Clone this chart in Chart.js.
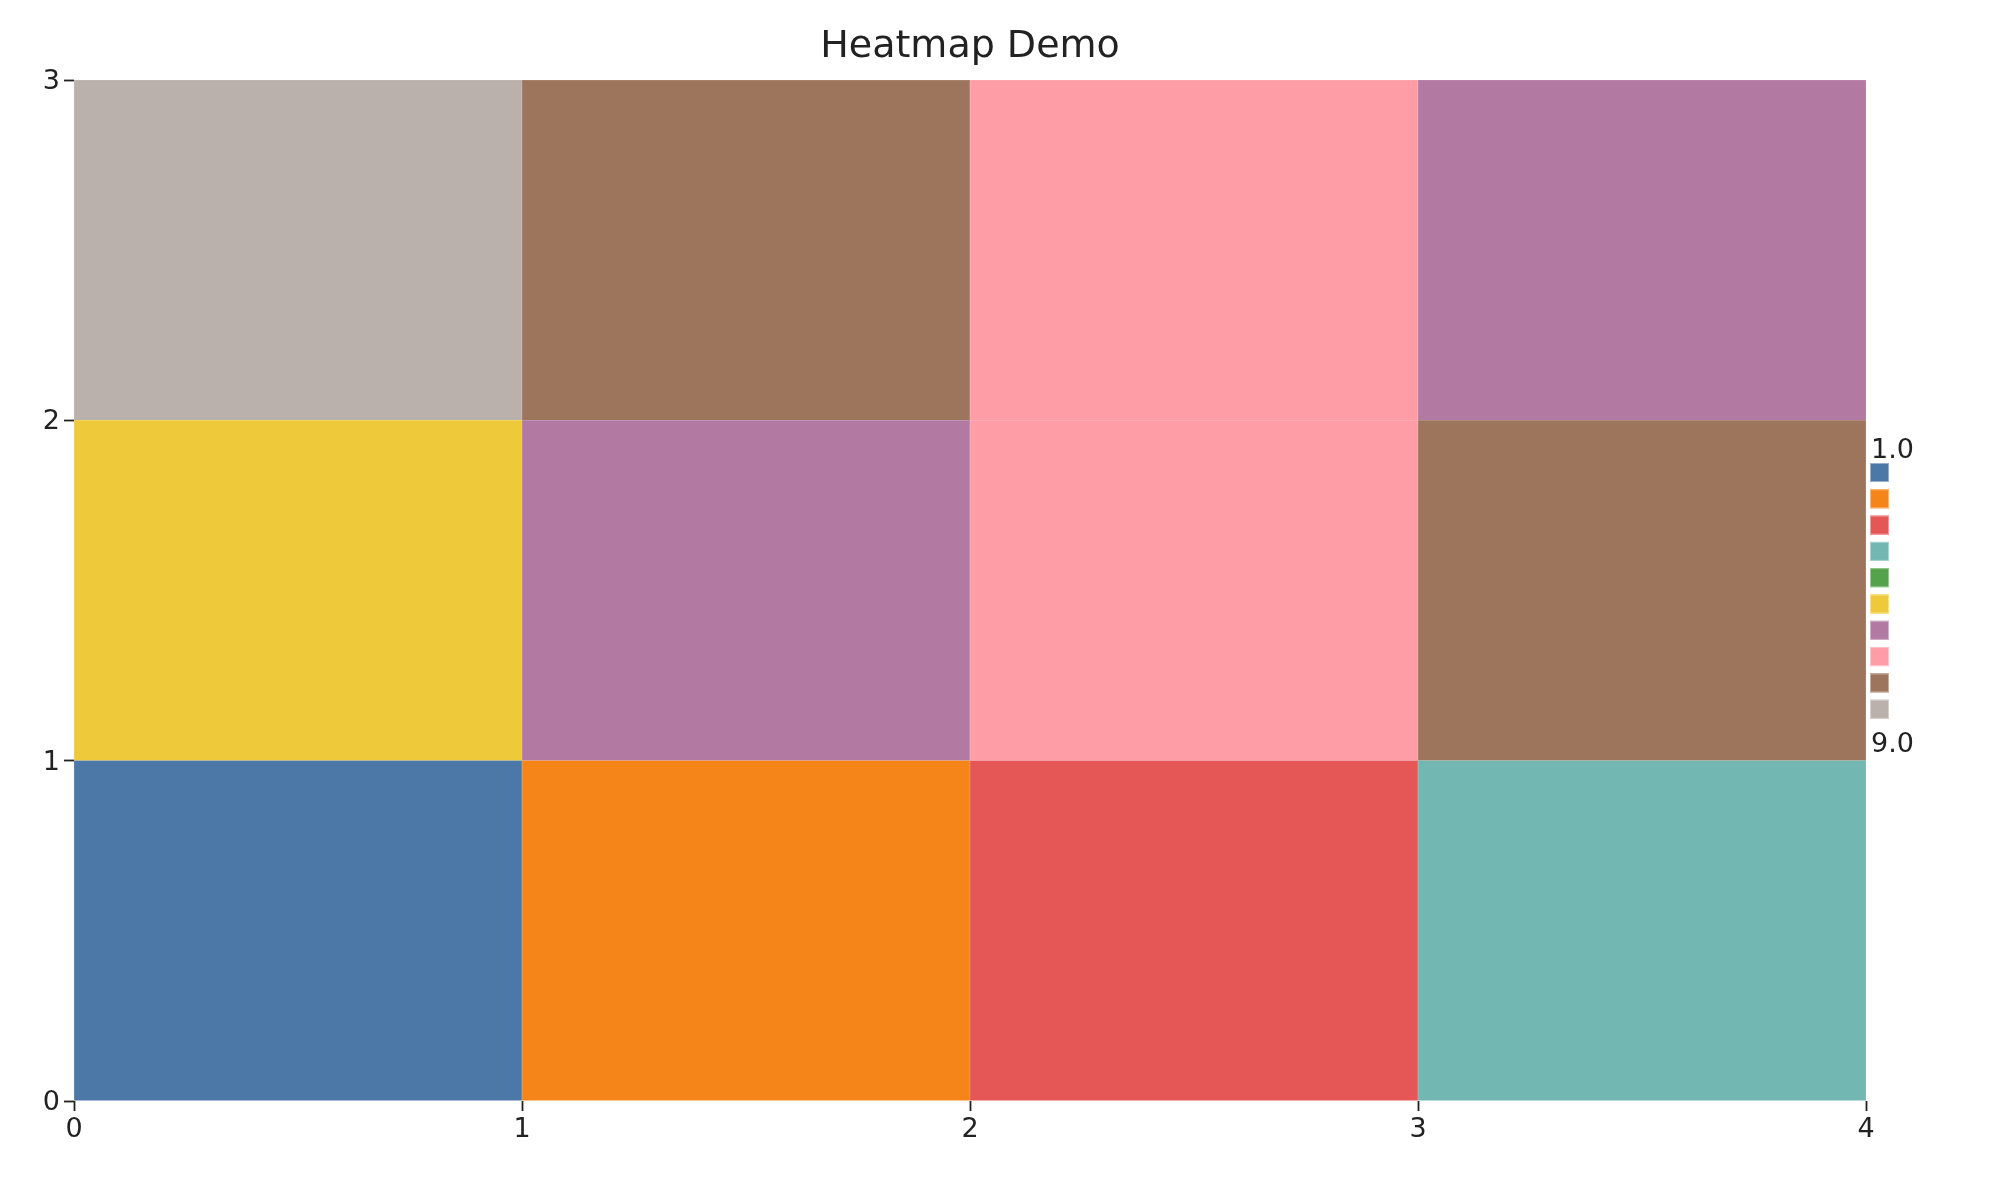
<!DOCTYPE html>
<html>
<head>
<meta charset="utf-8">
<script src="https://cdn.jsdelivr.net/npm/chart.js@4"></script>
<style>
  html, body { margin: 0; padding: 0; background: #fff; }
  #wrap { width: 2000px; height: 1200px; position: relative; }
</style>
</head>
<body>
<div id="wrap"><canvas id="c" width="2000" height="1200"></canvas></div>
<script>
// ---- data ----
const xCells = [0, 1, 2, 3];          // left edge of each column
const yRows = [0, 1, 2];              // bottom edge of each row
const row0Values = [1, 2, 3, 4];
const row1Values = [5, 6, 7, 8];
const row2Values = [9, 8, 7, 6];
const rowValues = [row0Values, row1Values, row2Values];
const xTicks = [0, 1, 2, 3, 4];
const yTicks = [0, 1, 2, 3];
const colorDomain = [1, 9];
const palette = ['#4c78a8', '#f58518', '#e45756', '#72b7b2', '#54a24b',
                 '#eeca3b', '#b279a2', '#ff9da6', '#9d755d', '#bab0ac'];
const titleText = 'Heatmap Demo';

// quantize scale
function colorFor(v) {
  const n = palette.length;
  let i = Math.floor((v - colorDomain[0]) / (colorDomain[1] - colorDomain[0]) * n);
  i = Math.max(0, Math.min(n - 1, i));
  return palette[i];
}
function lighten(hex, t) {
  const r = parseInt(hex.slice(1, 3), 16), g = parseInt(hex.slice(3, 5), 16), b = parseInt(hex.slice(5, 7), 16);
  const m = c => Math.round(c + (255 - c) * t);
  return `rgb(${m(r)},${m(g)},${m(b)})`;
}

const datasets = yRows.map((row, ri) => {
  const vals = rowValues[ri];
  return {
    label: 'row ' + row,
    data: xCells.map((x, ci) => ({ x: x + 0.5, y: [row, row + 1], v: vals[ci] })),
    backgroundColor: vals.map(colorFor),
    borderColor: vals.map(v => lighten(colorFor(v), 0.35)),
    borderWidth: 0.6,
    borderSkipped: false,
    barPercentage: 1,
    categoryPercentage: 1,
    grouped: false
  };
});

const FONT = "'DejaVu Sans', sans-serif";
const TXT = '#222';

const legendPlugin = {
  id: 'quantLegend',
  afterDraw(chart) {
    const ctx = chart.ctx;
    const ca = chart.chartArea;
    const x0 = ca.right + 4;
    const top = 463, pitch = 26.3, sz = 19;
    ctx.save();
    palette.forEach((c, i) => {
      ctx.fillStyle = c;
      ctx.fillRect(x0, top + i * pitch, sz, sz);
      ctx.strokeStyle = lighten(c, 0.4);
      ctx.lineWidth = 1;
      ctx.strokeRect(x0 + 0.5, top + i * pitch + 0.5, sz - 1, sz - 1);
    });
    ctx.fillStyle = TXT;
    ctx.font = `27px ${FONT}`;
    ctx.textAlign = 'left';
    ctx.textBaseline = 'alphabetic';
    ctx.fillText(colorDomain[0].toFixed(1), x0 + 1, 458);
    ctx.fillText(colorDomain[1].toFixed(1), x0 + 1, 752);
    ctx.restore();
  }
};

new Chart(document.getElementById('c'), {
  type: 'bar',
  data: { datasets },
  plugins: [legendPlugin],
  options: {
    responsive: false,
    animation: false,
    parsing: { xAxisKey: 'x', yAxisKey: 'y' },
    layout: { padding: { left: 0, right: 134, top: 0, bottom: 0 } },
    plugins: {
      legend: { display: false },
      tooltip: { enabled: false },
      title: {
        display: true,
        text: titleText,
        fullSize: false,
        color: TXT,
        font: { family: FONT, size: 38, weight: 'normal', lineHeight: 1.2 },
        padding: { top: 24, bottom: 10.4 }
      }
    },
    scales: {
      x: {
        type: 'linear',
        min: 0, max: 4,
        offset: false,
        border: { display: false },
        grid: { offset: false, drawOnChartArea: false, drawTicks: true, tickLength: 10, tickColor: TXT, tickWidth: 1.8 },
        afterBuildTicks(scale) { scale.ticks = xTicks.map(v => ({ value: v })); },
        ticks: { color: TXT, padding: 3, maxRotation: 0, font: { family: FONT, size: 27 },
                 callback: v => String(v) },
        afterFit(scale) { scale.height = 99; }
      },
      y: {
        type: 'linear',
        min: 0, max: 3,
        border: { display: false },
        grid: { drawOnChartArea: false, drawTicks: true, tickLength: 10, tickColor: TXT, tickWidth: 1.8 },
        afterBuildTicks(scale) { scale.ticks = yTicks.map(v => ({ value: v })); },
        ticks: { color: TXT, padding: 4, labelOffset: 2, font: { family: FONT, size: 27 },
                 callback: v => String(v) },
        afterFit(scale) { scale.width = 74; }
      }
    }
  }
});
</script>
</body>
</html>
